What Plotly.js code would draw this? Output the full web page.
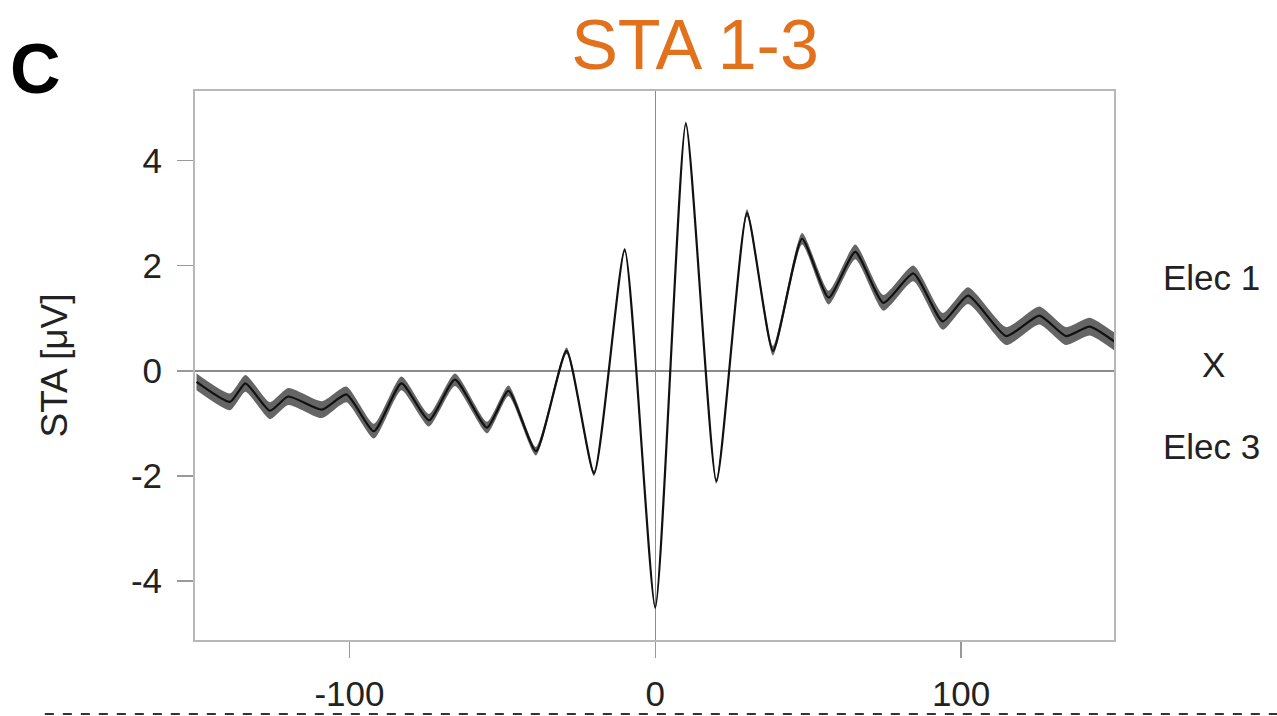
<!DOCTYPE html>
<html>
<head>
<meta charset="utf-8">
<script src="https://cdn.plot.ly/plotly-3.0.1.min.js"></script>
<style>html,body{margin:0;padding:0;background:#fff;}#chart{width:1277px;height:716px;}</style>
</head>
<body>
<div id="chart"></div>
<script>
// Lag (ms) relative to spike at the turning points of the trace
var lagMs = [-150, -139, -134, -126, -120, -109, -101, -92, -83, -74, -65.5, -55, -48, -39, -29, -20, -10, 0, 10, 20, 30, 38.5, 48, 56.7, 65.4, 74.6, 84.4, 94, 102.3, 114.8, 125.6, 134.3, 142, 150];
// Mean spike-triggered average (uV)
var staMean = [-0.21, -0.59, -0.24, -0.76, -0.49, -0.74, -0.45, -1.15, -0.24, -0.94, -0.17, -1.08, -0.38, -1.53, 0.38, -1.95, 2.3, -4.5, 4.7, -2.1, 3.0, 0.38, 2.51, 1.39, 2.26, 1.29, 1.85, 0.94, 1.43, 0.66, 1.05, 0.66, 0.84, 0.56];
// Half-width of the shaded error band (uV)
var staErr = [0.16, 0.16, 0.16, 0.16, 0.16, 0.16, 0.15, 0.14, 0.13, 0.12, 0.12, 0.11, 0.1, 0.08, 0.06, 0.05, 0.04, 0.04, 0.04, 0.05, 0.07, 0.09, 0.11, 0.13, 0.14, 0.15, 0.15, 0.16, 0.16, 0.17, 0.17, 0.17, 0.17, 0.17];
var yTickVals = [-4, -2, 0, 2, 4];
var yTickText = ['-4', '-2', '0', '2', '4'];
var xTickVals = [-100, 0, 100];
var xTickText = ['-100', '0', '100'];
var sideLabels = ['Elec 1', 'X', 'Elec 3'];

var upper = staMean.map(function (v, i) { return v + staErr[i]; });
var lower = staMean.map(function (v, i) { return v - staErr[i]; });
var SM = 0.55;

var traces = [
  {x: lagMs, y: upper, type: 'scatter', mode: 'lines', line: {shape: 'spline', smoothing: SM, width: 0, color: 'rgba(0,0,0,0)'}, hoverinfo: 'skip', showlegend: false},
  {x: lagMs, y: lower, type: 'scatter', mode: 'lines', line: {shape: 'spline', smoothing: SM, width: 0, color: 'rgba(0,0,0,0)'}, fill: 'tonexty', fillcolor: 'rgba(80,80,80,0.88)', hoverinfo: 'skip', showlegend: false},
  {x: lagMs, y: staMean, type: 'scatter', mode: 'lines', line: {shape: 'spline', smoothing: SM, width: 2.2, color: '#111'}, showlegend: false}
];

var F = 'Liberation Sans, Arial, Helvetica, sans-serif';
function px2x(p) { return (p - 195) / 918; }
function py2y(p) { return (640 - p) / 549; }

var layout = {
  width: 1277, height: 716,
  margin: {l: 195, r: 163, t: 91, b: 76},
  paper_bgcolor: '#fff', plot_bgcolor: '#fff',
  showlegend: false,
  title: {text: 'STA 1-3', font: {family: F, size: 70, color: '#E2711D'}, xref: 'container', x: 695 / 1277, xanchor: 'center', yref: 'container', y: 1 - 44 / 716, yanchor: 'middle'},
  xaxis: {
    range: [-150.5, 150], tickmode: 'array', tickvals: xTickVals, ticktext: xTickText,
    ticks: 'outside', ticklen: 16, tickwidth: 1.5, tickcolor: '#999', ticklabelstandoff: 6,
    tickfont: {family: F, size: 35, color: '#222'},
    showline: true, mirror: true, linecolor: '#b8b8b8', linewidth: 2,
    showgrid: false, zeroline: true, zerolinecolor: '#8c8c8c', zerolinewidth: 1.5
  },
  yaxis: {
    range: [-5.12, 5.32], tickmode: 'array', tickvals: yTickVals, ticktext: yTickText,
    ticks: 'outside', ticklen: 16, tickwidth: 1.5, tickcolor: '#999', ticklabelstandoff: 8,
    tickfont: {family: F, size: 35, color: '#222'},
    showline: true, mirror: true, linecolor: '#b8b8b8', linewidth: 2,
    showgrid: false, zeroline: true, zerolinecolor: '#8c8c8c', zerolinewidth: 1.5,
    title: {text: 'STA [μV]', font: {family: F, size: 37, color: '#222'}, standoff: 52}
  },
  annotations: [
    {text: '<b>C</b>', xref: 'paper', yref: 'paper', x: px2x(36), y: py2y(69), showarrow: false, font: {family: F, size: 70, color: '#000'}, xanchor: 'center', yanchor: 'middle'},
    {text: sideLabels[0], xref: 'paper', yref: 'paper', x: px2x(1210), y: py2y(277), showarrow: false, font: {family: F, size: 35, color: '#222'}, xanchor: 'center', yanchor: 'middle'},
    {text: sideLabels[1], xref: 'paper', yref: 'paper', x: px2x(1212), y: py2y(364), showarrow: false, font: {family: F, size: 35, color: '#222'}, xanchor: 'center', yanchor: 'middle'},
    {text: sideLabels[2], xref: 'paper', yref: 'paper', x: px2x(1210), y: py2y(446), showarrow: false, font: {family: F, size: 35, color: '#222'}, xanchor: 'center', yanchor: 'middle'}
  ],
  shapes: [
    {type: 'line', xref: 'paper', yref: 'paper', x0: px2x(45), x1: px2x(1277), y0: py2y(714), y1: py2y(714), line: {color: '#333', width: 2, dash: 'dash'}}
  ]
};

Plotly.newPlot('chart', traces, layout, {displayModeBar: false, staticPlot: true});
</script>
</body>
</html>
